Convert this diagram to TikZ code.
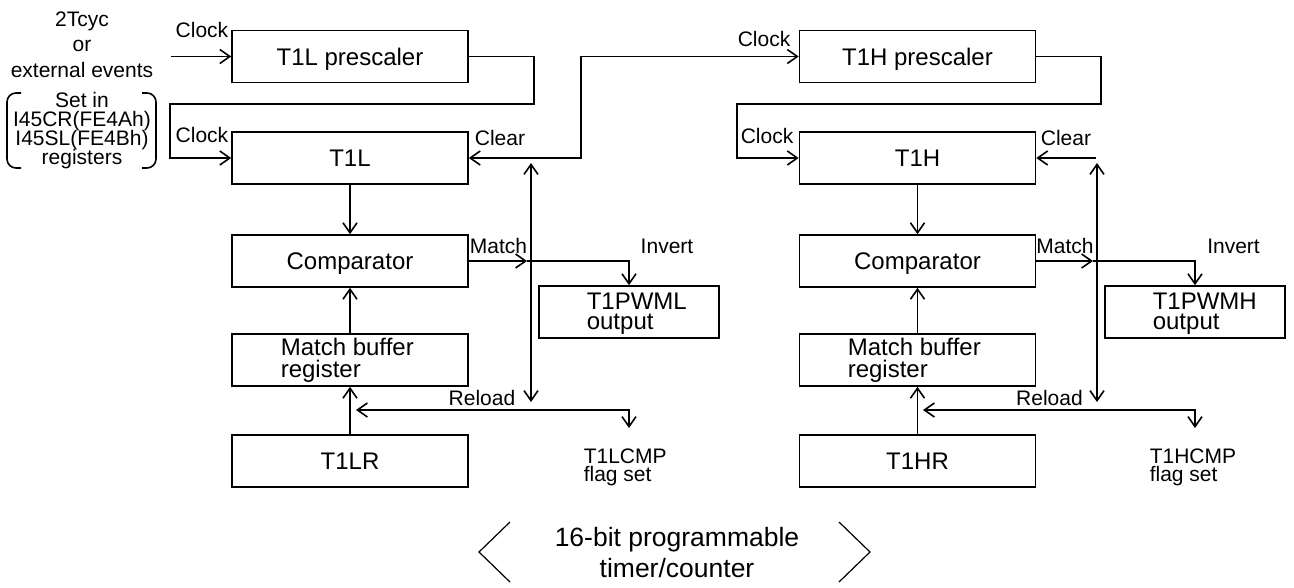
\documentclass[tikz,border=0pt]{standalone}
\usepackage{fontspec}
\setmainfont{Liberation Sans}
\usetikzlibrary{arrows.meta,calc}
\newcommand\lblfont{\fontsize{21}{19}\selectfont\lineskiplimit=-50pt\relax}
\newcommand\cmpfont{\fontsize{21}{18}\selectfont\lineskiplimit=-50pt\relax}
\newcommand\srcfont{\fontsize{21}{25.5}\selectfont\lineskiplimit=-50pt\relax}
\newcommand\boxfont{\fontsize{24}{22}\selectfont\lineskiplimit=-50pt\relax}
\newcommand\outfont{\fontsize{24}{20}\selectfont\lineskiplimit=-50pt\relax}
\newcommand\bigfont{\fontsize{26.5}{31}\selectfont\lineskiplimit=-50pt\relax}
\begin{document}
\begin{tikzpicture}[x=1pt,y=-1pt,
  line width=1.6pt,
  tip/.style={-{Straight Barb[length=10pt,width=14pt]}},
  tips/.style={{Straight Barb[length=10pt,width=14pt]}-{Straight Barb[length=10pt,width=14pt]}},
  blk/.style={draw, line width=1.6pt, minimum width=236pt, minimum height=52pt, inner sep=0pt, font=\boxfont, text height=17.2pt, text depth=0pt},
  outbox/.style={draw, line width=1.6pt, minimum width=180pt, minimum height=52pt, inner sep=0pt},
  lbl/.style={font=\lblfont, inner sep=0pt, anchor=base},
  intext/.style={font=\boxfont, inner sep=0pt, anchor=north west, align=left},
  outtext/.style={font=\outfont, inner sep=0pt, anchor=north west, align=left},
  cmptext/.style={font=\cmpfont, inner sep=0pt, anchor=north west, align=left},
  brk/.style={line width=1.6pt, rounded corners=9pt},
  chev/.style={line width=1.2pt}
]
\useasboundingbox (0,0) rectangle (1294,587);

% ---------- source text ----------
\node[font=\srcfont, align=center, anchor=north, inner sep=0pt] (src) at (82,11) {2Tcyc\\or\\external events};
\node[font=\lblfont, align=center, anchor=north, inner sep=0pt] (reg) at (82,91) {Set in\\I45CR(FE4Ah)\\I45SL(FE4Bh)\\registers};
\draw[brk] (21,93) -- (7,93) -- (7,168) -- (21,168);
\draw[brk] (142,93) -- (156,93) -- (156,168) -- (142,168);

% ---------- left half ----------
\node[blk] (pL) at (350,56.5) {T1L prescaler};
\node[blk] (tL) at (350,158) {T1L};
\node[blk] (cL) at (350,261) {Comparator};
\node[blk] (mL) at (350,360) {};
\node[intext] (mLt) at (280,337.5) {Match buffer\\register};
\node[blk] (rL) at (350,461) {T1LR};
\node[outbox] (oL) at (629,312) {};
\node[outtext] (oLt) at (586,292) {T1PWML\\output};
\node[cmptext] (fL) at (583,448) {T1LCMP\\flag set};

\node[lbl] (ck1) at (202,37) {Clock};
\node[lbl] (ck2) at (202,142) {Clock};
\node[lbl] (clrL) at (500,145) {Clear};
\node[lbl] (mtL) at (498.5,253) {Match};
\node[lbl] (ivL) at (667,253) {Invert};
\node[lbl] (rlL) at (482,405) {Reload};

\coordinate (inL) at (171,56.5);
\draw[tip] (inL) -- (pL.west);
\coordinate (rtL1) at (534,104);
\coordinate (rtL2) at (170,104);
\draw[tip] (pL.east) -| (rtL1) -- (rtL2) |- (tL.west);
\draw[tip] (tL.south) -- (cL.north);
\draw[tip] (mL.north) -- (cL.south);
\draw[tip] (rL.north) -- (mL.south);
\coordinate (aL) at (527,261);
\draw[tip] (cL.east) -- (aL);
\draw[tip] (aL) -| (oL.north);
\coordinate (vtL) at (531,163);
\coordinate (vbL) at (531,402);
\draw[tips] (vtL) -- (vbL);
\coordinate (rlaL) at (356,410);
\coordinate (rlbL) at (629,428);
\draw[tips] (rlaL) -| (rlbL);

% ---------- right half ----------
\node[blk] (pR) at (917.5,56.5) {T1H prescaler};
\node[blk] (tR) at (917.5,158) {T1H};
\node[blk] (cR) at (917.5,261) {Comparator};
\node[blk] (mR) at (917.5,360) {};
\node[intext] (mRt) at (847,337.5) {Match buffer\\register};
\node[blk] (rR) at (917.5,461) {T1HR};
\node[outbox] (oR) at (1195,312) {};
\node[outtext] (oRt) at (1152,292) {T1PWMH\\output};
\node[cmptext] (fR) at (1149,448) {T1HCMP\\flag set};

\node[lbl] (ck3) at (764,46) {Clock};
\node[lbl] (ck4) at (767,143) {Clock};
\node[lbl] (clrR) at (1066,145) {Clear};
\node[lbl] (mtR) at (1065,253) {Match};
\node[lbl] (ivR) at (1233.5,253) {Invert};
\node[lbl] (rlR) at (1049.5,405) {Reload};

\coordinate (kL) at (581,100);
\draw[tips] (tL.east) -| (kL) |- (pR.west);
\coordinate (rtR1) at (1101,104);
\coordinate (rtR2) at (737,104);
\draw[tip] (pR.east) -| (rtR1) -- (rtR2) |- (tR.west);
\draw[tip] (tR.south) -- (cR.north);
\draw[tip] (mR.north) -- (cR.south);
\draw[tip] (rR.north) -- (mR.south);
\coordinate (aR) at (1093,261);
\draw[tip] (cR.east) -- (aR);
\draw[tip] (aR) -| (oR.north);
\coordinate (vtR) at (1097,163);
\coordinate (vbR) at (1097,402);
\draw[tips] (vtR) -- (vbR);
\coordinate (clR) at (1096,158);
\draw[tip] (clR) -- (tR.east);
\coordinate (rlaR) at (923,410);
\coordinate (rlbR) at (1195,428);
\draw[tips] (rlaR) -| (rlbR);

% ---------- bottom ----------
\node[font=\bigfont, align=center, anchor=north, inner sep=0pt] (title) at (677,526) {16-bit programmable\\timer/counter};
\draw[chev] (510,522) -- (479,552) -- (510,582);
\draw[chev] (839,522) -- (870,552) -- (839,582);
\end{tikzpicture}
\end{document}
